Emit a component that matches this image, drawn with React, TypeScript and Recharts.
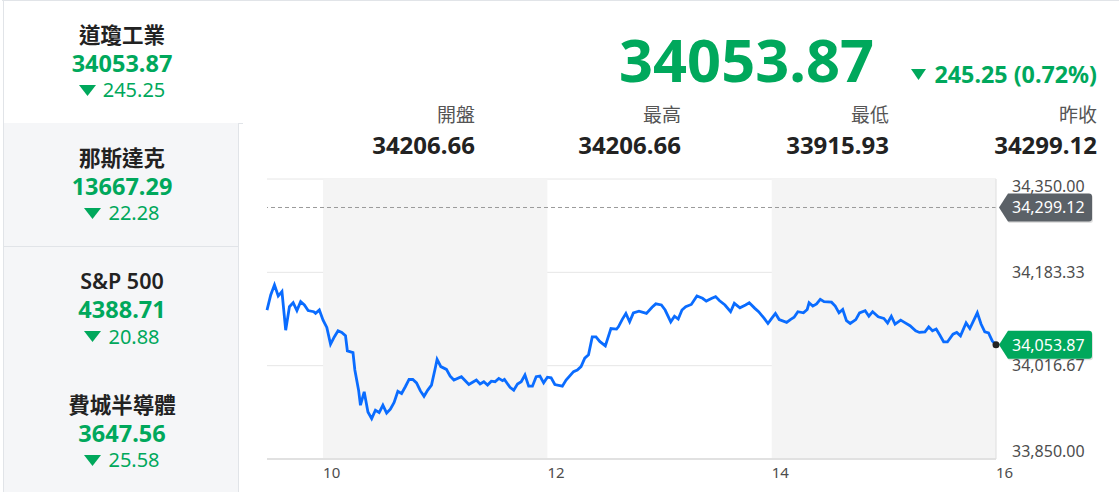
import React from 'react'
import { ComposedChart, Line, XAxis, YAxis, CartesianGrid, ReferenceArea, ReferenceLine, ReferenceDot } from 'recharts'

// minutes after 9:30 open
const minutes = [
  0, 2, 4, 6, 8, 10, 12, 14, 16, 18,
  20, 22, 25, 26, 28, 30, 32, 34, 36, 38,
  40, 42, 43, 46, 47, 49, 50, 52, 54, 56,
  58, 60, 62, 64, 66, 68, 70, 72, 74, 76,
  78, 80, 82, 84, 86, 88, 90, 91, 93, 96,
  98, 100, 104, 108, 110, 112, 114, 116, 118, 120,
  122, 124, 126, 127, 130, 132, 134, 136, 138, 140,
  142, 144, 146, 148, 150, 152, 154, 158, 160, 164,
  166, 168, 170, 172, 174, 176, 178, 181, 184, 187,
  188, 190, 192, 194, 196, 199, 203, 206, 208, 211,
  213, 216, 218, 220, 222, 224, 227, 230, 233, 235,
  238, 240, 242, 245, 248, 250, 253, 256, 258, 261,
  263, 266, 268, 270, 272, 274, 278, 280, 282, 284,
  287, 289, 290, 292, 294, 296, 298, 302, 304, 306,
  308, 310, 312, 315, 317, 320, 322, 324, 327, 330,
  332, 334, 336, 339, 341, 344, 347, 349, 352, 354,
  356, 358, 360, 362, 364, 367, 369, 371, 374, 376,
  380, 382, 384, 386, 388, 390,
]

const prices = [
  34116, 34143, 34161, 34141, 34149, 34080, 34122, 34129, 34115, 34131,
  34125, 34115, 34113, 34110, 34116, 34098, 34085, 34055, 34068, 34079,
  34076, 34070, 34043, 34040, 34009, 33973, 33946, 33970, 33934, 33922,
  33937, 33933, 33946, 33932, 33939, 33951, 33971, 33967, 33979, 33992,
  33992, 33986, 33972, 33962, 33973, 33982, 34012, 34028, 34015, 34010,
  33998, 33991, 33997, 33983, 33987, 33991, 33984, 33988, 33982, 33989,
  33988, 33994, 33990, 33992, 33978, 33973, 33984, 33988, 34000, 33980,
  33980, 33997, 33998, 33986, 33996, 33995, 33983, 33980, 33991, 34006,
  34009, 34015, 34030, 34036, 34068, 34068, 34060, 34052, 34083, 34082,
  34086, 34099, 34110, 34095, 34111, 34114, 34110, 34121, 34127, 34125,
  34116, 34095, 34105, 34100, 34116, 34122, 34126, 34141, 34137, 34132,
  34137, 34140, 34133, 34125, 34113, 34128, 34120, 34125, 34129, 34119,
  34113, 34101, 34092, 34101, 34110, 34099, 34094, 34099, 34103, 34113,
  34111, 34117, 34129, 34123, 34127, 34135, 34131, 34130, 34123, 34111,
  34117, 34097, 34092, 34099, 34111, 34115, 34105, 34113, 34104, 34101,
  34093, 34105, 34091, 34098, 34094, 34088, 34079, 34076, 34077, 34086,
  34079, 34082, 34071, 34059, 34059, 34073, 34076, 34070, 34093, 34083,
  34111, 34091, 34077, 34075, 34061, 34053.87,
]

const xTicks = [30, 150, 270, 390]
const xTickLabels = ['10', '12', '14', '16']
const yTicks = [33850, 34016.67, 34183.33, 34350]
const shadedRanges = [
  [30, 150],
  [270, 390],
]
const prevClose = 34299.12
const lastPrice = 34053.87

const indexNames = ['道瓊工業', '那斯達克', 'S&P 500', '費城半導體']
const indexPrices = ['34053.87', '13667.29', '4388.71', '3647.56']
const indexChanges = ['245.25', '22.28', '20.88', '25.58']

const quoteLabels = ['開盤', '最高', '最低', '昨收']
const quoteValues = ['34206.66', '34206.66', '33915.93', '34299.12']

const data = minutes.map((t, i) => ({ t, v: prices[i] }))

const GREEN = '#00a85c'
const FONT = '"Noto Sans", "Noto Sans CJK TC", sans-serif'
const fmt = (n: number) => n.toLocaleString('en-US', { minimumFractionDigits: 2, maximumFractionDigits: 2 })

function DownTriangle({ w, h }: { w: number; h: number }) {
  return (
    <svg width={w} height={h} style={{ display: 'block' }}>
      <polygon points={`0,0 ${w},0 ${w / 2},${h}`} fill={GREEN} />
    </svg>
  )
}

function PriceTag(props: any) {
  const { viewBox, text, fill } = props
  if (!viewBox) return null
  const x = viewBox.x + viewBox.width
  const y = viewBox.y
  const tip = x + 3
  const bx = x + 12
  const rx = x + 96
  const h = 28
  const r = 3
  const d = `M ${tip} ${y} L ${bx} ${y - h / 2} L ${rx - r} ${y - h / 2} Q ${rx} ${y - h / 2} ${rx} ${y - h / 2 + r} L ${rx} ${y + h / 2 - r} Q ${rx} ${y + h / 2} ${rx - r} ${y + h / 2} L ${bx} ${y + h / 2} Z`
  return (
    <g>
      <path d={d} fill="rgba(0,0,0,0.12)" transform="translate(1,1.5)" />
      <path d={d} fill={fill} />
      <text x={x + 16} y={y} dy="0.36em" fill="#fff" fontSize={16} fontFamily={FONT}>
        {text}
      </text>
    </g>
  )
}

function YTick(props: any) {
  const { x, y, payload } = props
  let shift = 0
  if (payload.value >= 34350) shift = 7.5
  if (payload.value <= 33850) shift = -7.5
  return (
    <text x={x} y={y + shift} dy="0.36em" textAnchor="start" fill="#4d4d4d" fontSize={16} fontFamily={FONT}>
      {fmt(payload.value)}
    </text>
  )
}

function XTick(props: any) {
  const { x, y, payload } = props
  const i = xTicks.indexOf(payload.value)
  return (
    <text x={x} y={y} dy="0.71em" textAnchor="start" fill="#4d4d4d" fontSize={15} fontFamily={FONT}>
      {xTickLabels[i]}
    </text>
  )
}

function IndexItem({ i }: { i: number }) {
  const active = i === 0
  const top = [0, 123, 246.5, 370][i]
  return (
    <div
      style={{
        position: 'absolute',
        left: 3,
        top,
        width: active ? 240 : 236,
        height: 124,
        background: active ? '#fff' : '#f5f6f8',
        borderLeft: '1px solid #e1e4e8',
        borderRight: active ? 'none' : '1px solid #e1e4e8',
        borderBottom: '1px solid #e1e4e8',
        boxSizing: 'border-box',
      }}
    >
      <div style={{ position: 'absolute', left: 0, width: 236, top: 23.5, textAlign: 'center', fontSize: 21.5, lineHeight: '21.5px', color: '#222', fontWeight: 600 }}>
        {indexNames[i]}
      </div>
      <div style={{ position: 'absolute', left: 0, width: 236, top: 51.5, textAlign: 'center', fontSize: 23.5, lineHeight: '23.5px', color: GREEN, fontWeight: 700 }}>
        {indexPrices[i]}
      </div>
      <div style={{ position: 'absolute', left: 0, width: 236, top: 80.4, display: 'flex', justifyContent: 'center', alignItems: 'center', gap: 7, fontSize: 20, lineHeight: '20px', color: GREEN }}>
        <DownTriangle w={17} h={11} />
        <span>{indexChanges[i]}</span>
      </div>
    </div>
  )
}

export default function App() {
  const colRight = [475, 681, 889, 1097]
  return (
    <div style={{ position: 'relative', width: 1119, height: 492, background: '#fff', overflow: 'hidden', fontFamily: FONT }}>
      <style>{'body{margin:0}'}</style>
      {indexNames.map((_, i) => (
        <IndexItem key={i} i={i} />
      ))}
      <div style={{ position: 'absolute', left: 2, top: 0, width: 1117, height: 1, background: '#e1e4e8' }} />

      <div style={{ position: 'absolute', right: 1119 - 874, top: 29, fontSize: 59.5, lineHeight: '59.5px', fontWeight: 700, color: GREEN }}>
        34053.87
      </div>
      <div style={{ position: 'absolute', right: 1119 - 1097, top: 63.2, display: 'flex', alignItems: 'center', gap: 8, fontSize: 23.3, lineHeight: '23.3px', fontWeight: 700, color: GREEN }}>
        <DownTriangle w={15} h={11} />
        <span>245.25 (0.72%)</span>
      </div>

      {quoteLabels.map((l, i) => (
        <div key={l} style={{ position: 'absolute', right: 1119 - colRight[i], top: 106.3, fontSize: 19, lineHeight: '19px', color: '#555' }}>
          {l}
        </div>
      ))}
      {quoteValues.map((v, i) => (
        <div key={i} style={{ position: 'absolute', right: 1119 - colRight[i], top: 133, fontSize: 24, lineHeight: '24px', fontWeight: 700, color: '#222' }}>
          {v}
        </div>
      ))}

      <div style={{ position: 'absolute', left: 0, top: 0 }}>
        <ComposedChart width={1119} height={492} data={data} margin={{ top: 179, left: 267, right: 23, bottom: 3 }}>
          {shadedRanges.map(([a, b]) => (
            <ReferenceArea key={a} x1={a} x2={b} y1={33850} y2={34350} fill="#f4f4f4" fillOpacity={1} stroke="none" ifOverflow="hidden" />
          ))}
          <CartesianGrid horizontal vertical={false} stroke="#e6e6e6" />
          <XAxis
            dataKey="t"
            type="number"
            domain={[0, 390]}
            ticks={xTicks}
            height={30}
            tickLine={false}
            axisLine={{ stroke: '#cfcfcf' }}
            tick={<XTick />}
            interval={0}
          />
          <YAxis
            orientation="right"
            type="number"
            domain={[33850, 34350]}
            ticks={yTicks}
            width={100}
            tickLine={false}
            axisLine={{ stroke: '#dedede' }}
            tickSize={6}
            tickMargin={10}
            tick={<YTick />}
            interval={0}
            allowDataOverflow
          />
          <ReferenceLine y={prevClose} stroke="#9a9a9a" strokeDasharray="4 3" label={<PriceTag text={fmt(prevClose)} fill="#5b6167" />} />
          <Line type="linear" dataKey="v" stroke="#0a6cff" strokeWidth={2.8} dot={false} isAnimationActive={false} />
          <ReferenceLine y={lastPrice} stroke="none" strokeOpacity={0} label={<PriceTag text={fmt(lastPrice)} fill={GREEN} />} />
          <ReferenceDot x={390} y={lastPrice} r={3.5} fill="#222" stroke="none" />
        </ComposedChart>
      </div>
    </div>
  )
}
